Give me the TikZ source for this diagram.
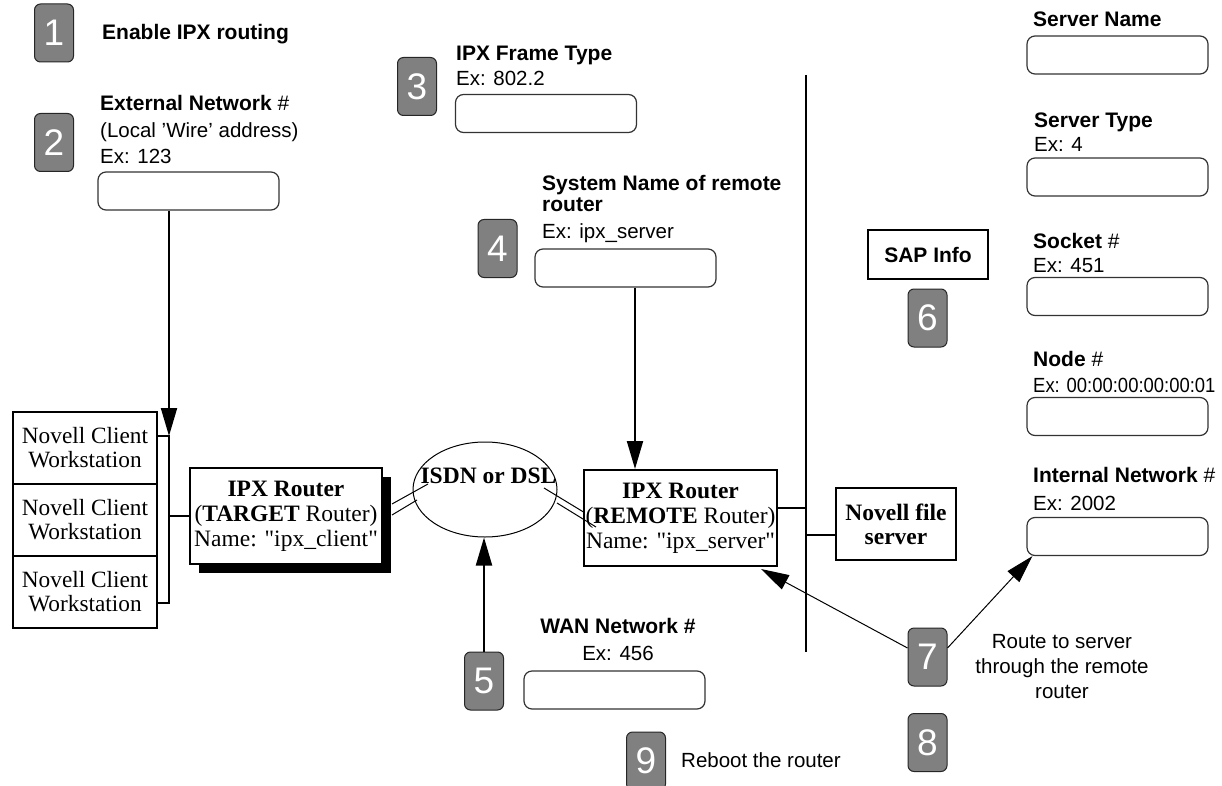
\documentclass[tikz,border=0pt]{standalone}
\usepackage{fontspec}
\usepackage{graphicx}
\setmainfont{Liberation Serif}
\setsansfont{Liberation Sans}
\usetikzlibrary{arrows.meta,calc,shapes.geometric,shadows}

\definecolor{badgegray}{RGB}{128,128,128}
\newcommand\lblfont{\sffamily\fontsize{20.5}{25}\selectfont}
\newcommand\lblbold{\sffamily\bfseries\fontsize{21}{25}\selectfont}
\newcommand\rtrfont{\rmfamily\fontsize{23.5}{25}\selectfont}
\newcommand\wsfont{\rmfamily\fontsize{23.3}{24}\selectfont}
\newcommand\dq{\textquotedbl}

\tikzset{
  badge/.style={draw=black!85, fill=badgegray, rounded corners=6pt,
    minimum width=39pt, minimum height=58pt, inner sep=0pt, line width=1pt,
    text=white, font=\sffamily\fontsize{37}{37}\selectfont},
  entry/.style={draw=black!80, rounded corners=8pt, minimum width=181pt,
    minimum height=38pt, line width=1.2pt, inner sep=0pt},
  lbl/.style={anchor=base west, inner sep=0pt, font=\lblfont},
  lblb/.style={anchor=base west, inner sep=0pt, font=\lblbold},
  lblc/.style={anchor=base, inner sep=0pt, font=\lblfont},
  lblbc/.style={anchor=base, inner sep=0pt, font=\lblbold},
  router/.style={draw, line width=2pt, fill=white, align=center,
    font=\rtrfont, minimum height=96pt, inner sep=0pt},
  wsbox/.style={draw, line width=2pt, align=center, font=\wsfont,
    minimum width=144pt, minimum height=72pt, inner sep=0pt},
  wire/.style={line width=2pt},
  link/.style={line width=1pt},
  arr/.style={line width=2pt, -{Triangle[length=28pt,width=16pt]}},
  thinarr/.style={line width=1pt, -{Triangle[length=28pt,width=16pt]}},
}

\begin{document}
\begin{tikzpicture}[x=1pt,y=-1pt]
\useasboundingbox (0,0) rectangle (1222,786);

% step badges
\node[badge] (b1) at (54,33) {1};
\node[badge] (b2) at (54,142.5) {2};
\node[badge] (b3) at (417,86.5) {3};
\node[badge] (b4) at (497.5,248.5) {4};
\node[badge] (b5) at (484,681) {5};
\node[badge] (b6) at (927.5,318) {6};
\node[badge] (b7) at (927.5,657) {7};
\node[badge] (b8) at (927.5,742.5) {8};
\node[badge] (b9) at (646,761) {9};

% step 1
\node[lblb] (t1) at (102,40) {Enable IPX routing};

% step 2: external network
\node[lblb] (t2a) at (100,111) {External Network \mdseries\#};
\node[lbl] (t2b) at (100,138) {(Local ’Wire’ address)};
\node[lbl] (t2c) at (100,164) {Ex: 123};
\node[entry] (ext) at (188.5,191) {};

% step 3: frame type
\node[lblb] (t3a) at (456,61) {IPX Frame Type};
\node[lbl] (t3b) at (456,86) {Ex: 802.2};
\node[entry] (frame) at (546,113.5) {};

% step 4: remote system name
\node[lblb] (t4a) at (542,191) {System Name of remote};
\node[lblb] (t4b) at (542,212) {router};
\node[lbl] (t4c) at (542,238) {Ex: ipx\_server};
\node[entry] (sysname) at (625.5,268) {};

% step 6: SAP info fields
\node[draw, line width=2pt, minimum width=120pt, minimum height=49pt,
      inner sep=0pt, font=\lblbold] (sap) at (928,254.5) {SAP Info};
\node[lblb] (t6a) at (1033,27) {Server Name};
\node[entry] (srvname) at (1117.5,55) {};
\node[lblb] (t6b) at (1034,128) {Server Type};
\node[lbl] (t6c) at (1034,152) {Ex: 4};
\node[entry] (srvtype) at (1117.5,177) {};
\node[lblb] (t6d) at (1033,248) {Socket \mdseries\#};
\node[lbl] (t6e) at (1033,272) {Ex: 451};
\node[entry] (socket) at (1117.5,296.5) {};
\node[lblb] (t6f) at (1033,366) {Node \mdseries\#};
\node[lbl] (t6g) at (1033,392) {\scalebox{0.9}[1]{Ex: 00:00:00:00:00:01}};
\node[entry] (nodeno) at (1117.5,416.5) {};

% step 7: internal network
\node[lblb] (t7a) at (1033,482) {Internal Network \mdseries\#};
\node[lbl] (t7b) at (1033,510) {Ex: 2002};
\node[entry] (internal) at (1117.5,536.5) {};
\node[lblc] (t7c) at (1062,648) {Route to server};
\node[lblc] (t7d) at (1062,673) {through the remote};
\node[lblc] (t7e) at (1062,698) {router};

% step 5: WAN network
\node[lblbc] (t5a) at (618,633) {WAN Network \#};
\node[lblc] (t5b) at (618,660) {Ex: 456};
\node[entry] (wan) at (614.5,690) {};

% step 9
\node[lbl] (t9) at (681,767) {Reboot the router};

% client workstations
\node[wsbox] (ws1) at (85,448) {Novell Client\\Workstation};
\node[wsbox] (ws2) at (85,520) {Novell Client\\Workstation};
\node[wsbox] (ws3) at (85,592) {Novell Client\\Workstation};

% routers, WAN cloud and file server
\node[router, minimum width=192pt,
      drop shadow={shadow xshift=9pt, shadow yshift=-9pt, fill=black, opacity=1}]
  (target) at (286,516) {\textbf{IPX Router}\\(\textbf{TARGET} Router)\\Name: \dq ipx\_client\dq};
\node[router, minimum width=193pt]
  (remote) at (680.5,518) {\textbf{IPX Router}\\(\textbf{REMOTE} Router)\\Name: \dq ipx\_server\dq};
\node[ellipse, draw, line width=1pt, minimum width=144pt, minimum height=95pt,
      inner sep=0pt] (isdn) at (485,489.5) {};
\node[anchor=base, inner sep=0pt, font=\rtrfont\bfseries] (isdnlbl) at (488.5,483) {ISDN or DSL};
\node[draw, line width=2pt, minimum width=120pt, minimum height=72pt, inner sep=0pt,
      align=center, font=\rmfamily\bfseries\fontsize{23.5}{24}\selectfont]
  (fs) at (896,524) {Novell file\\server};

% client LAN bus
\coordinate (busA) at (169,436);
\coordinate (busB) at (169,603);
\draw[wire] (ws1.east |- busA) -- (busA) -- (busB) -- (ws3.east |- busB);
\draw[wire] (target.west -| busA) -- (target.west);
\draw[arr] (ext.south -| busA) -- (busA);

% server LAN
\coordinate (lanT) at (806,75);
\coordinate (lanB) at (806,652);
\draw[wire] (lanT) -- (lanB);
\draw[wire] ([yshift=10pt]remote.east) -- ([yshift=10pt]remote.east -| lanT);
\draw[wire] ([yshift=-11pt]fs.west) -- ([yshift=-11pt]fs.west -| lanT);

% WAN links (double lines)
\draw[link] ($(target.east)+(9,-12)$) -- ($(isdn.center)+(-57,-5.5)$);
\draw[link] ($(target.east)+(9,-1)$) -- ($(isdn.center)+(-68,10.5)$);
\draw[link] ($(isdn.center)+(59,-1.5)$) -- ($(remote.west)+(0.5,-6)$);
\draw[link] ($(isdn.center)+(72,13.5)$) -- ($(remote.west)+(13,9)$);

% step arrows
\draw[arr] ([xshift=9.5pt]sysname.south) -- ([xshift=9.5pt]sysname.south |- remote.north);
\draw[arr] (b5.north) -- (b5.north |- isdn.south);
\draw[thinarr] ([yshift=9pt]b7.west) -- ($(remote.south east)+(-17,2)$);
\draw[thinarr] ([yshift=9pt]b7.east) -- ($(internal.south west)+(6,0)$);
\end{tikzpicture}
\end{document}
